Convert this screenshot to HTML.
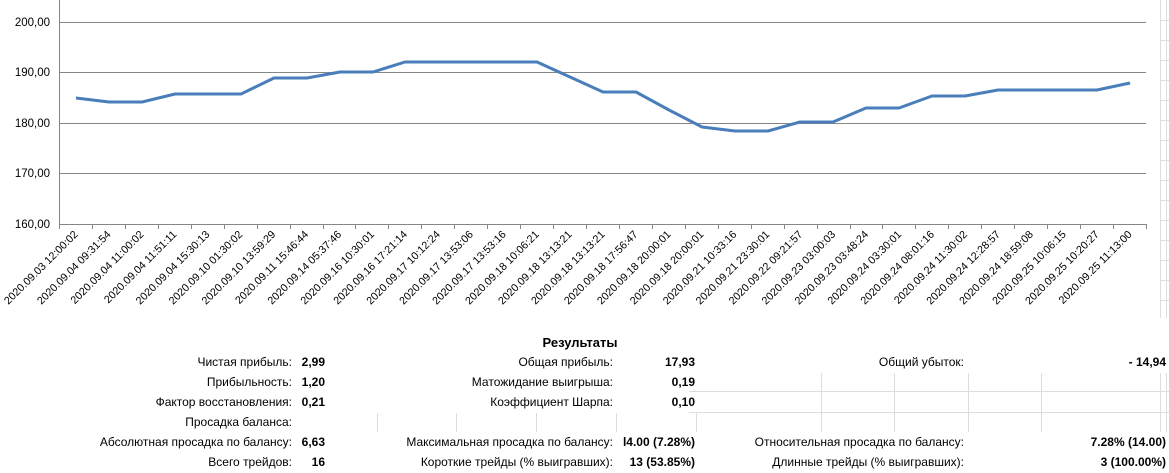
<!DOCTYPE html>
<html><head><meta charset="utf-8"><style>
html,body{margin:0;padding:0;background:#fff;}
svg{display:block;font-family:"Liberation Sans",sans-serif;}
</style></head><body>
<svg width="1169" height="473" xmlns="http://www.w3.org/2000/svg">
<g stroke="#ddd" stroke-width="1">
<line x1="1160.5" y1="0" x2="1160.5" y2="318"/>
<line x1="1166.5" y1="0" x2="1166.5" y2="318"/>
<path d="M1160 20.5H1169M1160 40.5H1169M1160 60.5H1169M1160 80.5H1169M1160 100.5H1169M1160 120.5H1169M1160 140.5H1169M1160 160.5H1169M1160 180.5H1169M1160 200.5H1169M1160 220.5H1169M1160 240.5H1169M1160 260.5H1169M1160 280.5H1169M1160 300.5H1169"/>
<path d="M377.5 413V432M456.5 413V432M536.5 413V432M616.5 413V432M696.5 413V432M821.5 373V432M894.5 373V432M968.5 373V432M1041.5 373V432M1160.5 373V432M1166.5 373V432"/>
<path d="M689 391.5H1169M689 412.5H1169"/>
</g>
<g stroke="#868686" stroke-width="1">
<line x1="59" y1="22.5" x2="1146" y2="22.5"/>
<line x1="59" y1="72.5" x2="1146" y2="72.5"/>
<line x1="59" y1="123.5" x2="1146" y2="123.5"/>
<line x1="59" y1="173.5" x2="1146" y2="173.5"/>
<line x1="59" y1="224.5" x2="1146" y2="224.5"/>
<line x1="59.5" y1="0" x2="59.5" y2="228"/>
</g>
<g font-size="11.5" text-anchor="end" fill="#000">
<text x="50" y="26">200,00</text>
<text x="50" y="76">190,00</text>
<text x="50" y="127">180,00</text>
<text x="50" y="177">170,00</text>
<text x="50" y="228">160,00</text>
</g>
<g id="ticks" stroke="#868686"></g>
<polyline fill="none" stroke="#4a7ebb" stroke-width="3" stroke-linejoin="round" points="76,98 109,102 142,102 175,94 208,94 241,94 274,78 307,78 340,72 373,72 405,62 438,62 471,62 504,62 537,62 570,77 603,92 636,92 669,110 702,127 735,131 768,131 800,122 833,122 866,108 899,108 932,96 965,96 998,90 1031,90 1064,90 1097,90 1130,83"/>
<g id="labels" font-size="10.8" text-anchor="end" fill="#000"></g>
<g font-size="12" fill="#000">
<text x="580" y="347" text-anchor="middle" font-weight="bold" font-size="13">Результаты</text>
<g text-anchor="end">
<text x="292" y="366">Чистая прибыль:</text>
<text x="292" y="386">Прибыльность:</text>
<text x="292" y="406">Фактор восстановления:</text>
<text x="292" y="426">Просадка баланса:</text>
<text x="292" y="446">Абсолютная просадка по балансу:</text>
<text x="292" y="466">Всего трейдов:</text>
<text x="613" y="366">Общая прибыль:</text>
<text x="613" y="386">Матожидание выигрыша:</text>
<text x="613" y="406">Коэффициент Шарпа:</text>
<text x="613" y="446">Максимальная просадка по балансу:</text>
<text x="613" y="466">Короткие трейды (% выигравших):</text>
<text x="964" y="366">Общий убыток:</text>
<text x="964" y="446">Относительная просадка по балансу:</text>
<text x="964" y="466">Длинные трейды (% выигравших):</text>
</g>
<g text-anchor="end" font-weight="bold">
<text x="325" y="366">2,99</text>
<text x="325" y="386">1,20</text>
<text x="325" y="406">0,21</text>
<text x="325" y="446">6,63</text>
<text x="325" y="466">16</text>
<text x="695" y="366">17,93</text>
<text x="695" y="386">0,19</text>
<text x="695" y="406">0,10</text>
<text x="695" y="446">l4.00 (7.28%)</text>
<text x="695" y="466">13 (53.85%)</text>
<text x="1166" y="366">- 14,94</text>
<text x="1166" y="446">7.28% (14.00)</text>
<text x="1166" y="466">3 (100.00%)</text>
</g>
</g>
<script>
var L=["2020.09.03 12:00:02","2020.09.04 09:31:54","2020.09.04 11:00:02","2020.09.04 11:51:11","2020.09.04 15:30:13","2020.09.10 01:30:02","2020.09.10 13:59:29","2020.09.11 15:46:44","2020.09.14 05:37:46","2020.09.16 10:30:01","2020.09.16 17:21:14","2020.09.17 10:12:24","2020.09.17 13:53:06","2020.09.17 13:53:16","2020.09.18 10:06:21","2020.09.18 13:13:21","2020.09.18 13:13:21","2020.09.18 17:56:47","2020.09.18 20:00:01","2020.09.18 20:00:01","2020.09.21 10:33:16","2020.09.21 23:30:01","2020.09.22 09:21:57","2020.09.23 03:00:03","2020.09.23 03:48:24","2020.09.24 03:30:01","2020.09.24 08:01:16","2020.09.24 11:30:02","2020.09.24 12:28:57","2020.09.24 18:59:08","2020.09.25 10:06:15","2020.09.25 10:20:27","2020.09.25 11:13:00"];
var ns="http://www.w3.org/2000/svg",g=document.getElementById("labels"),t=document.getElementById("ticks"),s=1087/33;
for(var i=0;i<=33;i++){var x=Math.round(59+i*s)+0.5;var l=document.createElementNS(ns,"line");l.setAttribute("x1",x);l.setAttribute("x2",x);l.setAttribute("y1",224);l.setAttribute("y2",229);t.appendChild(l);}
for(var i=0;i<33;i++){var x=59+s/2+i*s+3,y=235;var e=document.createElementNS(ns,"text");e.setAttribute("x",x);e.setAttribute("y",y);e.setAttribute("transform","rotate(-45 "+x+" "+y+")");e.textContent=L[i];g.appendChild(e);}
</script>
</svg>
</body></html>
